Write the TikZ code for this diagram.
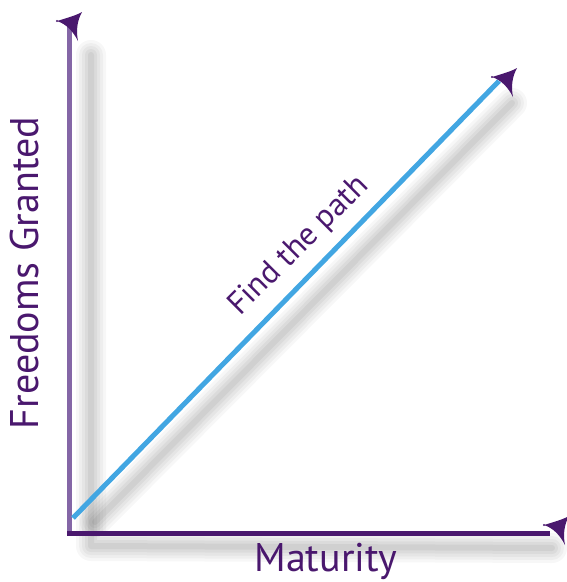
\documentclass[tikz,border=0pt]{standalone}
\usepackage{fontspec}
\setmainfont{PT Sans}
\definecolor{dpurple}{RGB}{74,24,110}
\definecolor{lpurple}{RGB}{132,102,166}
\definecolor{pathblue}{RGB}{66,166,226}
\tikzset{
  shadowline/.style={line cap=round,line join=round},
  axisv/.style={draw=lpurple,line width=5pt},
  axish/.style={draw=dpurple,line width=5pt},
  pathline/.style={draw=pathblue,line width=5pt},
  lbl/.style={text=dpurple,inner sep=0pt},
  head/.pic={\fill[dpurple] (0,0) -- (5,-1.5) .. controls (13,-4) and (20,-6) .. (25,-9)
      .. controls (20,0) and (19,10) .. (21,20) .. controls (16,10) and (9,3) .. (0,0) -- cycle;
      \fill[dpurple] (0,0) circle (1.2);}
}
\begin{document}
\begin{tikzpicture}[x=1pt,y=-1pt]
\useasboundingbox (0,0) rectangle (567,582);
% shadows
\foreach \w/\o in {30/0.03,24/0.035,18/0.04,12/0.045,6/0.05}{
  \draw[shadowline,black,opacity=\o,line width=\w pt] (91,55) -- (91,546) -- (552,548);
  \draw[shadowline,black,opacity=\o,line width=\w pt] (95,522) -- (512,103);
}
\coordinate (O) at (69.5,533);
\coordinate (Vtop) at (69.5,26);
\coordinate (Hend) at (550,533);
\coordinate (Pstart) at (73,518);
\coordinate (Pend) at (499,81);
\draw[axisv] (O) -- (Vtop);
\draw[axish] (67,533) -- (Hend);
\draw[pathline] (Pstart) -- (Pend);
\pic at (57,21) {head};
\pic at (492,77) {head};
\pic at (544,525) {head};
\node[lbl,rotate=90,font=\fontsize{40}{40}\selectfont] (ylab) at (24,273) {Freedoms Granted};
\node[lbl,font=\fontsize{40}{40}\selectfont] (xlab) at (326,561) {Maturity};
\node[lbl,rotate=45,font=\fontsize{32}{32}\selectfont] (plab) at (299,246) {Find the path};
\end{tikzpicture}
\end{document}
